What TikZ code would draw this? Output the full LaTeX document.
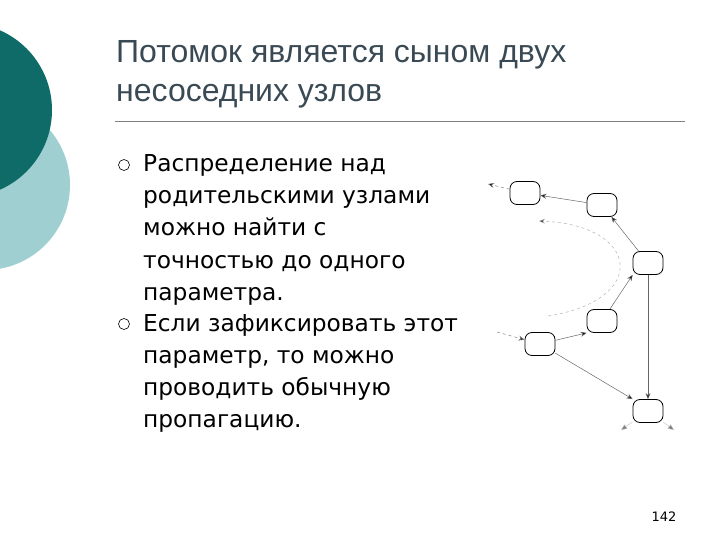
\documentclass[tikz,border=0pt]{standalone}
\usepackage{fontspec}
\setmainfont{DejaVu Sans}
\newfontfamily\titlefont{Liberation Sans}
\usetikzlibrary{arrows.meta}
\definecolor{darkteal}{HTML}{0E6B68}
\definecolor{lightteal}{HTML}{9FCFD0}
\definecolor{titlec}{HTML}{3A4A55}
\begin{document}
\begin{tikzpicture}[x=1pt,y=-1pt,
  st/.style={draw=black,line width=0.8pt,rounded corners=7pt,minimum width=30pt,minimum height=23pt,fill=white},
  ed/.style={draw=gray!80!black,line width=0.5pt,-{Stealth[length=6pt,width=5pt,fill=black]}},
  dsh/.style={draw=gray,dashed,line width=0.5pt,-{Stealth[length=6pt,width=5pt,fill=black]}},
  txt/.style={anchor=base west,inner sep=0pt,font=\fontsize{23.3}{26}\selectfont}]
\useasboundingbox (0,0) rectangle (720,540);
\fill[lightteal] (-15,185) circle (85);
\fill[darkteal] (-35,110) circle (87);
\node[anchor=base west,inner sep=0pt,text=titlec,font=\titlefont\fontsize{32}{36}\selectfont] (t1) at (116,63) {Потомок является сыном двух};
\node[anchor=base west,inner sep=0pt,text=titlec,font=\titlefont\fontsize{32}{36}\selectfont] (t2) at (116,102) {несоседних узлов};
\draw[gray,line width=0.6pt] (115,121) -- (685,121);
\foreach \y/\s [count=\i] in {172/Распределение над,204/родительскими узлами,236/можно найти с,268/точностью до одного,300/параметра.,331/{Если зафиксировать этот},363/{параметр, то можно},395/проводить обычную,427/пропагацию.}{
  \node[txt] (l\i) at (143,\y) {\s};}
\draw[line width=0.6pt] (124,165) circle (5.5) node (b1) {};
\draw[line width=0.6pt] (124,324) circle (5.5) node (b2) {};
\node[font=\fontsize{13}{15}\selectfont] (pg) at (664,517) {142};
\node[st] (A) at (525,193) {};
\node[st] (B) at (602,205) {};
\node[st] (C) at (648,263) {};
\node[st] (D) at (602,321) {};
\node[st] (E) at (540,344) {};
\node[st] (F) at (648,411) {};
\coordinate (a0) at (488,184);
\coordinate (e0) at (497,332);
\coordinate (s1) at (548,316);
\coordinate (s2) at (539,221);
\coordinate (f1) at (621,430);
\coordinate (f2) at (674,430);
\draw[ed] (B) -- (A);
\draw[ed] (C) -- (B);
\draw[ed] (D) -- (C.south west);
\draw[ed] (E) -- (D.south west);
\draw[ed] (E) -- (F.north west);
\draw[ed] (C.south) -- (F.north);
\draw[dsh] (A) -- (a0);
\draw[dsh] (e0) -- (E);
\draw[dsh,draw=gray!60] (s1) .. controls (650,300) and (640,225) .. (s2);
\draw[gray!50,-{Triangle[length=6pt,width=5pt,fill=gray]}] (F) -- (f1);
\draw[gray!50,-{Triangle[length=6pt,width=5pt,fill=gray]}] (F) -- (f2);
\end{tikzpicture}
\end{document}
